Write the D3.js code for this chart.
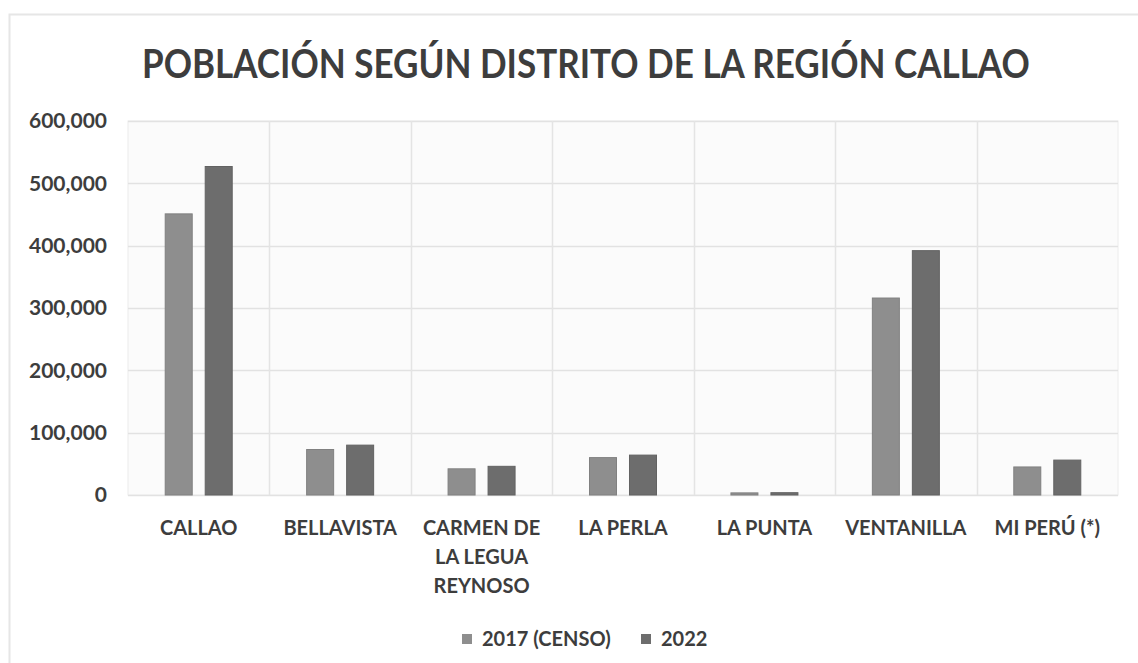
<!DOCTYPE html>
<html>
<head>
<meta charset="utf-8">
<script src="https://cdn.jsdelivr.net/npm/d3@7"></script>
<style>
  html, body { margin: 0; padding: 0; background: #ffffff; }
  svg { display: block; }
  text { font-family: Lato, "Open Sans", sans-serif; font-weight: 700; fill: #3d3d3d; }
</style>
</head>
<body>
<svg id="chart" width="1138" height="663"></svg>
<script>
// Districts of the Callao region and their population
const districts = ["CALLAO", "BELLAVISTA", "CARMEN DE LA LEGUA REYNOSO", "LA PERLA", "LA PUNTA", "VENTANILLA", "MI PERÚ (*)"];
const districtLines = [["CALLAO"], ["BELLAVISTA"], ["CARMEN DE", "LA LEGUA", "REYNOSO"], ["LA PERLA"], ["LA PUNTA"], ["VENTANILLA"], ["MI PERÚ (*)"]];
const seriesNames = ["2017 (CENSO)", "2022"];
const pop2017 = [451000, 73000, 42000, 60000, 3400, 316000, 45000];
const pop2022 = [527000, 80000, 46000, 64000, 3700, 392000, 56000];
const yTicks = [0, 100000, 200000, 300000, 400000, 500000, 600000];
const colors = ["#8e8e8e", "#6d6d6d"];

const svg = d3.select("#chart");

// outer chart frame
svg.append("path")
  .attr("d", "M9.5,663 V14.5 H1138")
  .attr("fill", "none").attr("stroke", "#e6e6e6").attr("stroke-width", 2);

const plot = { left: 128, right: 1118, top: 121, bottom: 495 };

const x0 = d3.scaleBand().domain(districts).range([plot.left, plot.right]).padding(0);
const groupW = 67;
const x1 = d3.scaleBand().domain(seriesNames)
  .range([(x0.bandwidth() - groupW) / 2, (x0.bandwidth() + groupW) / 2])
  .paddingInner(0.325).paddingOuter(0);
const y = d3.scaleLinear().domain([0, 600000]).range([plot.bottom, plot.top]);

// plot background
svg.append("rect")
  .attr("x", plot.left).attr("y", plot.top)
  .attr("width", plot.right - plot.left).attr("height", plot.bottom - plot.top)
  .attr("fill", "#fbfbfb").attr("stroke", "#ececec");

// horizontal gridlines
svg.append("g").selectAll("line").data(yTicks).join("line")
  .attr("x1", plot.left).attr("x2", plot.right)
  .attr("y1", d => Math.round(y(d)) + 0.5).attr("y2", d => Math.round(y(d)) + 0.5)
  .attr("stroke", "#e2e2e2").attr("stroke-width", 1.5);

// vertical gridlines between districts
svg.append("g").selectAll("line").data(districts.slice(1)).join("line")
  .attr("x1", d => Math.round(x0(d)) + 0.5).attr("x2", d => Math.round(x0(d)) + 0.5)
  .attr("y1", plot.top).attr("y2", plot.bottom)
  .attr("stroke", "#e4e4e4").attr("stroke-width", 1.5);

// y axis labels
const yAxis = d3.axisLeft(y).tickValues(yTicks)
  .tickFormat(d => d === 0 ? "0" : d3.format(",")(d)).tickSize(0).tickPadding(0);
const yg = svg.append("g").attr("transform", `translate(107,0)`).call(yAxis);
yg.select(".domain").remove();
yg.selectAll("text").attr("font-size", 21).attr("font-family", null).attr("fill", "#3d3d3d");

// bars
const data = districts.map((d, i) => ({ district: d, values: [pop2017[i], pop2022[i]] }));
const groups = svg.append("g").selectAll("g").data(data).join("g")
  .attr("transform", d => `translate(${x0(d.district)},0)`);
groups.selectAll("rect")
  .data(d => d.values.map((v, j) => ({ series: seriesNames[j], value: v, j })))
  .join("rect")
  .attr("x", d => x1(d.series))
  .attr("width", x1.bandwidth())
  .attr("y", d => y(d.value))
  .attr("height", d => y(0) - y(d.value))
  .attr("fill", d => colors[d.j])
  .attr("stroke", d => d3.color(colors[d.j]).darker(0.3))
  .attr("stroke-width", 1);

// x axis category labels (wrapped)
const xl = svg.append("g").selectAll("text").data(districts).join("text")
  .attr("x", d => x0(d) + x0.bandwidth() / 2)
  .attr("y", 535)
  .attr("text-anchor", "middle")
  .attr("font-size", 20);
xl.selectAll("tspan").data((d, i) => districtLines[i]).join("tspan")
  .attr("x", function () { return this.parentNode.getAttribute("x"); })
  .attr("dy", (d, k) => k === 0 ? 0 : 29)
  .text(d => d);

// title, narrowed horizontally to fit its span
const title = svg.append("text")
  .attr("x", 0).attr("y", 0)
  .attr("font-size", 41)
  .text("POBLACIÓN SEGÚN DISTRITO DE LA REGIÓN CALLAO");
const natural = title.node().getComputedTextLength();
const sx = Math.min(1, 888 / natural);
title.attr("transform", `translate(142,78) scale(${sx},1)`);

// legend
const legendX = [462, 641];
const lg = svg.append("g").selectAll("g").data(seriesNames).join("g")
  .attr("transform", (d, i) => `translate(${legendX[i]},634)`);
lg.append("rect").attr("width", 10).attr("height", 10)
  .attr("fill", (d, i) => colors[i]);
lg.append("text").attr("x", 20).attr("y", 12).attr("font-size", 20).text(d => d);
</script>
</body>
</html>
